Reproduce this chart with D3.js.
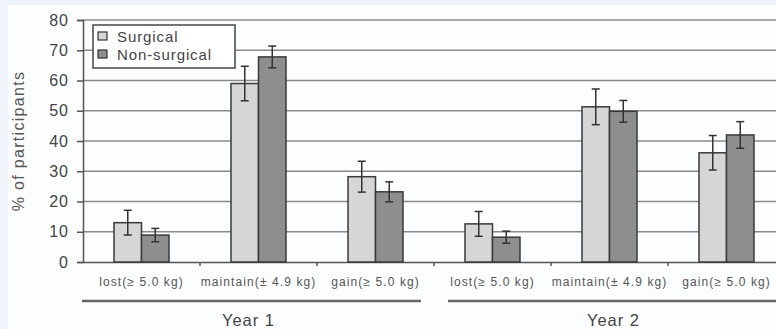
<!DOCTYPE html>
<html><head><meta charset="utf-8">
<script src="https://cdn.jsdelivr.net/npm/d3@7"></script>
<style>body{margin:0;background:#eef4f9}svg{display:block}</style>
</head><body>
<svg id="c" width="776" height="329"></svg>
<script>
const years = ["Year 1", "Year 2"];
const categories = ["lost(\u2265 5.0 kg)", "maintain(\u00b1 4.9 kg)", "gain(\u2265 5.0 kg)"];
const seriesNames = ["Surgical", "Non-surgical"];
const surgical =      [13, 59, 28.2, 12.6, 51.3, 36.1];
const surgicalErr =   [4.1, 5.7, 5.1, 4.1, 5.9, 5.7];
const nonSurgical =   [8.9, 67.8, 23.2, 8.2, 49.8, 42.0];
const nonSurgicalErr =[2.2, 3.6, 3.3, 2.0, 3.6, 4.4];
const yTicks = [0,10,20,30,40,50,60,70,80];

const FF = "Liberation Sans, Arial, sans-serif";
const svg = d3.select("#c");
svg.append("rect").attr("x",8).attr("y",5).attr("width",768).attr("height",324).attr("fill","#fcfdfe");

const L=83, R=785, T=20, B=262;
const slots = [];
years.forEach(y=>categories.forEach(c=>slots.push(y+"|"+c)));
const x = d3.scaleBand().domain(slots).range([L,R]).paddingInner(0).paddingOuter(0);
const y = d3.scaleLinear().domain([0,80]).range([B,T]);
const colors = ["#d6d6d6","#8e8e8e"];
const barW = x.bandwidth()*0.235;

// gridlines
svg.append("g").selectAll("line").data(yTicks.filter(d=>d>0)).join("line")
  .attr("x1",L).attr("x2",776).attr("y1",d=>y(d)).attr("y2",d=>y(d))
  .attr("stroke","#8a8a8a").attr("stroke-width",1.5);

// y axis
const ya = svg.append("g").attr("transform",`translate(${L},0)`)
  .call(d3.axisLeft(y).tickValues(yTicks).tickSize(6).tickPadding(8));
ya.select(".domain").attr("stroke","#555").attr("stroke-width",1.5);
ya.selectAll(".tick line").attr("stroke","#555").attr("stroke-width",1.5);
ya.selectAll("text").attr("font-family",FF).attr("font-size",16).attr("letter-spacing",1).attr("fill","#444");

// x axis
const xa = svg.append("g").attr("transform",`translate(0,${B})`)
  .call(d3.axisBottom(x).tickFormat(d=>d.split("|")[1]).tickSize(0).tickPadding(15));
xa.select(".domain").attr("stroke","#555").attr("stroke-width",1.5);
xa.selectAll("text").attr("font-family",FF).attr("font-size",12).attr("letter-spacing",1.1).attr("fill","#555");
// category boundary ticks
svg.append("g").selectAll("line").data(slots.slice(1)).join("line")
  .attr("x1",d=>x(d)).attr("x2",d=>x(d)).attr("y1",B).attr("y2",B+4)
  .attr("stroke","#555").attr("stroke-width",1.5);

// bars
const data = [];
slots.forEach((s,i)=>{
  data.push({slot:s,k:0,v:surgical[i],e:surgicalErr[i]});
  data.push({slot:s,k:1,v:nonSurgical[i],e:nonSurgicalErr[i]});
});
const cx = d=> x(d.slot)+x.bandwidth()/2 + (d.k===0?-barW:0);
svg.append("g").selectAll("rect").data(data).join("rect")
  .attr("x",cx).attr("width",barW)
  .attr("y",d=>y(d.v)).attr("height",d=>B-y(d.v))
  .attr("fill",d=>colors[d.k]).attr("stroke","#3a3a3a").attr("stroke-width",1.5);

// error bars
const eg = svg.append("g").attr("stroke","#333").attr("stroke-width",1.5);
data.forEach(d=>{
  const mx = cx(d)+barW/2;
  eg.append("line").attr("x1",mx).attr("x2",mx).attr("y1",y(d.v+d.e)).attr("y2",y(d.v-d.e));
  [d.v+d.e,d.v-d.e].forEach(v=>eg.append("line").attr("x1",mx-4).attr("x2",mx+4).attr("y1",y(v)).attr("y2",y(v)));
});

// year group lines & labels
years.forEach((yr,i)=>{
  const first = x(yr+"|"+categories[0]);
  const last = x(yr+"|"+categories[categories.length-1])+x.bandwidth();
  svg.append("line").attr("x1",first+(i?14:-1)).attr("x2",last-(i?0:13)).attr("y1",301).attr("y2",301)
    .attr("stroke","#666").attr("stroke-width",2.5);
  svg.append("text").attr("x",(first+last)/2 + (i?4:-10)).attr("y",326).attr("text-anchor","middle")
    .attr("font-family",FF).attr("font-size",16.5).attr("letter-spacing",1).attr("fill","#444").text(yr);
});

// y label
svg.append("text").attr("transform","translate(24,141) rotate(-90)").attr("text-anchor","middle")
  .attr("font-family",FF).attr("font-size",16).attr("letter-spacing",1.3).attr("fill","#555").text("% of participants");

// legend
const lg = svg.append("g");
lg.append("rect").attr("x",93).attr("y",25).attr("width",142).attr("height",43).attr("fill","#fff").attr("stroke","#444").attr("stroke-width",1.5);
seriesNames.forEach((n,i)=>{
  lg.append("rect").attr("x",98).attr("y",32+i*18).attr("width",9).attr("height",8).attr("fill",colors[i]).attr("stroke","#333").attr("stroke-width",1.2);
  lg.append("text").attr("x",117).attr("y",42+i*18).attr("font-family",FF).attr("font-size",15).attr("letter-spacing",0.9).attr("fill","#444").text(n);
});
</script>
</body></html>
